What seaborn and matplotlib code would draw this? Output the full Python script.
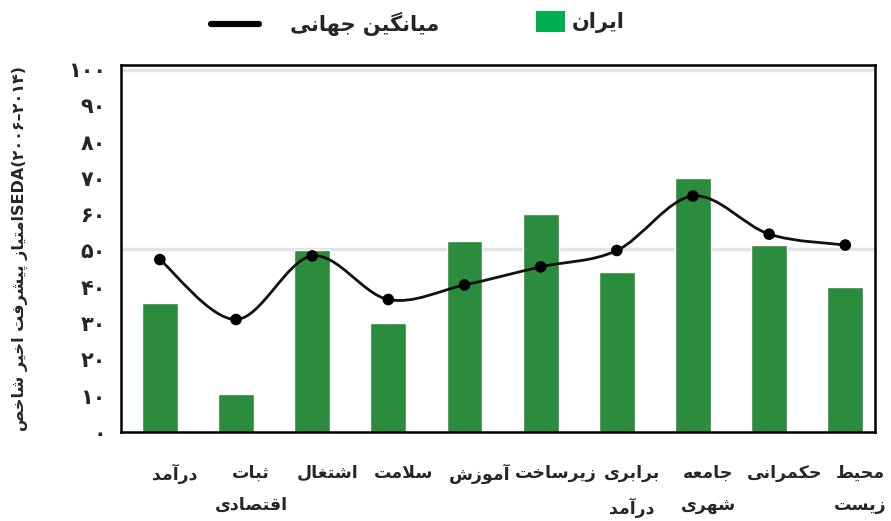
import unicodedata
import numpy as np
import pandas as pd
import matplotlib
matplotlib.use("Agg")
import matplotlib.pyplot as plt
from matplotlib.path import Path
from matplotlib.patches import PathPatch, Patch
from matplotlib.lines import Line2D
import seaborn as sns

# ---------------- data ----------------
categories = ["درآمد", "ثبات\nاقتصادی", "اشتغال", "سلامت", "آموزش",
              "زیرساخت", "برابری\nدرآمد", "جامعه\nشهری", "حکمرانی", "محیط\nزیست"]
iran_values = [35.5, 10.5, 50, 30, 52.5, 60, 44, 70, 51.5, 40]
world_values = [47.5, 31, 48.5, 36.5, 40.5, 45.5, 50, 65, 54.5, 51.5]
y_ticks = [0, 10, 20, 30, 40, 50, 60, 70, 80, 90, 100]
legend_labels = ["میانگین جهانی", "ایران"]
y_label_fa = "امتیاز پیشرفت اخیر شاخص"
y_label_latin = "SEDA(۲۰۰۶–۲۰۱۴)"

# ------------- minimal Arabic/Persian shaping -------------
FORMS = {}
for cp in list(range(0xFB50, 0xFE00)) + list(range(0xFE70, 0xFF00)):
    ch = chr(cp)
    d = unicodedata.decomposition(ch)
    if not d:
        continue
    parts = d.split()
    if len(parts) == 2 and parts[0] in ("<isolated>", "<final>", "<initial>", "<medial>"):
        base = chr(int(parts[1], 16))
        FORMS.setdefault(base, {}).setdefault(parts[0][1:-1], ch)

LAM_ALEF = {"ا": ("\uFEFB", "\uFEFC"), "آ": ("\uFEF5", "\uFEF6"),
            "أ": ("\uFEF7", "\uFEF8"), "إ": ("\uFEF9", "\uFEFA")}


def _dual(c):
    f = FORMS.get(c, {})
    return "initial" in f and "medial" in f


def _rjoin(c):
    return "final" in FORMS.get(c, {})


def shape(text):
    toks = []
    i = 0
    while i < len(text):
        c = text[i]
        if c == "\u0644" and i + 1 < len(text) and text[i + 1] in LAM_ALEF:
            toks.append(("LA", text[i + 1]))
            i += 2
        else:
            toks.append(("C", c))
            i += 1
    res = []
    for k, (t, c) in enumerate(toks):
        prev = toks[k - 1] if k > 0 else None
        nxt = toks[k + 1] if k + 1 < len(toks) else None
        prev_conn = prev is not None and prev[0] == "C" and _dual(prev[1])
        if t == "LA":
            res.append(LAM_ALEF[c][1 if prev_conn else 0])
            continue
        f = FORMS.get(c)
        if not f:
            res.append(c)
            continue
        can_prev = prev_conn and _rjoin(c)
        can_next = _dual(c) and nxt is not None and (nxt[0] == "LA" or _rjoin(nxt[1]))
        if can_prev and can_next:
            form = "medial"
        elif can_prev:
            form = "final"
        elif can_next:
            form = "initial"
        else:
            form = "isolated"
        res.append(f.get(form, f.get("isolated", c)))
    return "".join(res)


def rtl(text):
    return "\n".join(shape(line)[::-1] for line in text.split("\n"))


PERSIAN_DIGITS = str.maketrans("0123456789", "۰۱۲۳۴۵۶۷۸۹")

# ---------------- figure ----------------
sns.set_theme(style="white")
plt.rcParams["font.family"] = ["DejaVu Sans"]

fig = plt.figure(figsize=(8.91, 5.21), dpi=100)
ax = fig.add_axes([121 / 891, 1 - 432 / 521, (875 - 121) / 891, (432 - 65) / 521])

df = pd.DataFrame({"cat": categories, "iran": iran_values, "world": world_values})
df["pos"] = np.arange(len(df))

# grid lines
for gy in (50.5, 99.7):
    ax.axhline(gy, color="#e4e4e4", lw=2.5, zorder=0)

sns.barplot(data=df, x="cat", y="iran", color="#2b8c3e", width=0.47,
            saturation=1, ax=ax, zorder=2)

# smooth line (Catmull-Rom as cubic Bezier) through the world averages
xs = df["pos"].to_numpy(dtype=float)
ys = df["world"].to_numpy(dtype=float)
pts = np.column_stack([xs, ys])
verts = [tuple(pts[0])]
codes = [Path.MOVETO]
n = len(pts)
for i in range(n - 1):
    p0 = pts[max(i - 1, 0)]
    p1 = pts[i]
    p2 = pts[i + 1]
    p3 = pts[min(i + 2, n - 1)]
    c1 = p1 + (p2 - p0) / 6.0
    c2 = p2 - (p3 - p1) / 6.0
    verts += [tuple(c1), tuple(c2), tuple(p2)]
    codes += [Path.CURVE4] * 3
ax.add_patch(PathPatch(Path(verts, codes), facecolor="none", edgecolor="#111111",
                       lw=2.0, zorder=3))
sns.scatterplot(data=df, x="pos", y="world", color="#000000", s=70,
                edgecolor="none", ax=ax, zorder=4, legend=False)

ax.set_xlim(-0.51, 9.39)
ax.set_ylim(0, 101.1)
ax.set_yticks(y_ticks)
ax.set_yticklabels([str(v).translate(PERSIAN_DIGITS) for v in y_ticks],
                   fontsize=15, fontweight="bold")
# category labels sit slightly right of their bars in the reference
ax.set_xticks(np.arange(len(categories)) + 0.2)
ax.set_xticklabels([rtl(c) for c in categories], fontsize=12.5,
                   fontweight="bold", linespacing=2.0, va="top")
ax.tick_params(axis="x", length=0, pad=23)
ax.tick_params(axis="y", length=0, pad=11)
ax.set_xlabel("")
ax.set_ylabel(rtl(y_label_fa) + y_label_latin, fontsize=11.5, fontweight="bold")
ax.yaxis.set_label_coords(-0.124, 0.5)

for sp in ax.spines.values():
    sp.set_visible(True)
    sp.set_color("#000000")
    sp.set_linewidth(1.8)

# legends (RTL: handle left of text)
leg1 = fig.legend(handles=[Line2D([], [], color="#000000", lw=4.5)],
                  labels=[rtl(legend_labels[0])], loc="center",
                  bbox_to_anchor=(325 / 891, 1 - 24 / 521), frameon=False,
                  prop={"weight": "bold", "size": 15}, handlelength=2.3,
                  handletextpad=1.5)
leg2 = fig.legend(handles=[Patch(facecolor="#00b050", edgecolor="none")],
                  labels=[rtl(legend_labels[1])], loc="center",
                  bbox_to_anchor=(580 / 891, 1 - 22 / 521), frameon=False,
                  prop={"weight": "bold", "size": 15}, handlelength=1.4,
                  handleheight=1.2, handletextpad=0.3)

fig.savefig("out.png", dpi=100)
